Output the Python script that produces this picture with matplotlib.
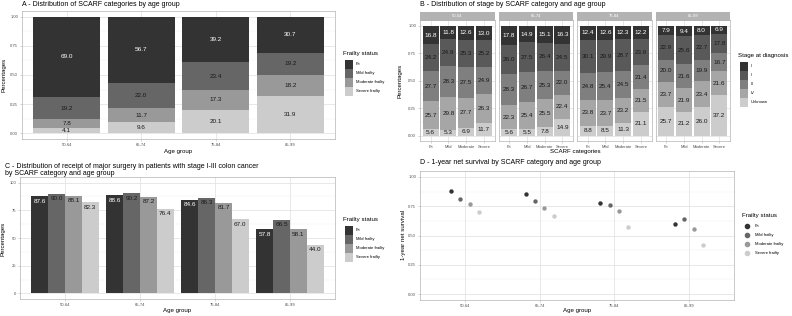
import matplotlib
matplotlib.use("Agg")
import matplotlib.pyplot as plt
from matplotlib.transforms import Affine2D
from matplotlib.patches import Rectangle
from matplotlib.lines import Line2D
import numpy as np

plt.rcParams['font.family'] = ['Liberation Sans', 'DejaVu Sans']

W, H = 792, 316

age_groups = ["50-64", "65-74", "75-84", "85-99"]
frailty = ["Fit", "Mild frailty", "Moderate frailty", "Severe frailty"]
scarf_short = ["Fit", "Mild", "Moderate", "Severe"]
stages = ["I", "II", "III", "IV", "Unknown"]

# A - share of each SCARF category by age group (%)
dist_fit = [69.0, 56.7, 39.2, 30.7]
dist_mild = [19.2, 22.0, 23.4, 19.2]
dist_mod = [7.8, 11.7, 17.3, 18.2]
dist_sev = [4.1, 9.6, 20.1, 31.9]

# B - stage distribution, 16 bars = age group x SCARF category (%)
stage_i = [16.8, 11.8, 12.6, 13.0, 17.8, 14.9, 15.1, 16.3, 12.4, 12.6, 12.3, 12.2, 7.9, 9.4, 8.0, 6.9]
stage_ii = [24.2, 24.9, 25.3, 25.2, 26.0, 27.5, 26.4, 24.5, 30.1, 29.9, 28.7, 23.9, 22.9, 25.6, 22.7, 17.8]
stage_iii = [27.7, 28.3, 27.5, 24.9, 28.3, 26.7, 25.3, 22.0, 24.8, 25.4, 24.5, 21.4, 20.0, 21.6, 19.9, 16.7]
stage_iv = [25.7, 29.8, 27.7, 26.3, 22.3, 25.4, 25.5, 22.4, 23.8, 23.7, 23.2, 21.5, 23.7, 21.9, 23.4, 21.6]
stage_unk = [5.6, 5.3, 6.9, 11.7, 5.6, 5.5, 7.8, 14.9, 8.8, 8.5, 11.3, 21.1, 25.7, 21.2, 26.0, 37.2]

# C - receipt of major surgery (%)
surg_fit = [87.6, 88.6, 84.6, 57.8]
surg_mild = [90.0, 90.2, 86.3, 66.5]
surg_mod = [88.1, 87.2, 81.7, 58.1]
surg_sev = [82.3, 76.4, 67.0, 44.0]

# D - 1-year net survival
surv_fit = [0.878, 0.857, 0.780, 0.596]
surv_mild = [0.810, 0.795, 0.758, 0.641]
surv_mod = [0.767, 0.738, 0.709, 0.553]
surv_sev = [0.700, 0.664, 0.575, 0.416]

grey4 = ["#333333", "#666666", "#999999", "#cccccc"]
grey5 = ["#333333", "#595959", "#7f7f7f", "#a6a6a6", "#cccccc"]
txt4 = ["white", "#1a1a1a", "#1a1a1a", "#1a1a1a"]
txt5 = ["white", "#1a1a1a", "#1a1a1a", "#1a1a1a", "#1a1a1a"]

fig = plt.figure(figsize=(W / 100, H / 100), dpi=100)
fig.patch.set_facecolor("white")
px = Affine2D().scale(1 / W, -1 / H).translate(0, 1) + fig.transFigure

TITLE = 5.0
AXT = 4.4
TICK = 3.0
LAB = 4.6


def ax_px(l, t, r, b):
    return fig.add_axes([l / W, 1 - b / H, (r - l) / W, (b - t) / H])


def style(ax, yt, ylab_fmt):
    for s in ax.spines.values():
        s.set_color("#b3b3b3")
        s.set_linewidth(0.5)
    ax.set_yticks(yt)
    ax.set_yticklabels([ylab_fmt(v) for v in yt])
    ax.set_yticks([(yt[i] + yt[i + 1]) / 2 for i in range(len(yt) - 1)], minor=True)
    ax.grid(which="major", color="#dedede", lw=0.5)
    ax.grid(which="minor", axis="y", color="#ececec", lw=0.3)
    ax.set_axisbelow(True)
    ax.tick_params(which="major", length=1.6, width=0.4, color="#b3b3b3",
                   labelsize=TICK, labelcolor="#4d4d4d", pad=1.2)
    ax.tick_params(which="minor", length=0)


def legend(x, y, title, labels, colors, kind):
    fig.text(x, y, title, transform=px, fontsize=AXT, va="center", ha="left")
    for i, (lab, c) in enumerate(zip(labels, colors)):
        ky = y + 7 + i * 9
        if kind == "box":
            fig.patches.append(Rectangle((x + 2, ky), 8, 8.5, transform=px,
                                         facecolor=c, edgecolor="none"))
        else:
            fig.lines.append(Line2D([x + 5], [ky + 4.25], transform=px, marker="o",
                                    color=c, ms=3, ls=""))
        fig.text(x + 13, ky + 4.25, lab, transform=px, fontsize=TICK, va="center")


x = np.arange(1, 5)

# ---------------- A ----------------
axA = ax_px(22, 11, 335, 139)
shares = [dist_fit, dist_mild, dist_mod, dist_sev]
tot = np.array(dist_fit) + np.array(dist_mild) + np.array(dist_mod) + np.array(dist_sev)
bottom = np.zeros(4)
for k in range(3, -1, -1):
    v = np.array(shares[k])
    h = v / tot
    axA.bar(x, h, 0.9, bottom=bottom, color=grey4[k], zorder=2)
    for i in range(4):
        axA.text(x[i], bottom[i] + h[i] / 2, f"{v[i]:.1f}", ha="center", va="center",
                 fontsize=LAB, color=txt4[k], zorder=3)
    bottom += h
axA.set_xlim(0.4, 4.6)
axA.set_ylim(-0.05, 1.05)
style(axA, [0, 0.25, 0.5, 0.75, 1.0], lambda v: f"{v:.2f}")
axA.set_xticks(x)
axA.set_xticklabels(age_groups)
fig.text(22, 5, "A - Distribution of SCARF categories by age group", transform=px,
         fontsize=TITLE, va="center")
fig.text(4, 75, "Percentages", transform=px, fontsize=AXT, rotation=90, va="center", ha="center")
fig.text(178.5, 151, "Age group", transform=px, fontsize=AXT, va="center", ha="center")
legend(343, 53, "Frailty status", frailty, grey4, "box")

# ---------------- B ----------------
stage_vals = [stage_i, stage_ii, stage_iii, stage_iv, stage_unk]
for g in range(4):
    l = 420 + g * 78.5
    axB = ax_px(l, 20.5, l + 74.5, 141)
    idx = slice(g * 4, g * 4 + 4)
    vals = [np.array(s[idx]) for s in stage_vals]
    tot_b = sum(vals)
    bottom = np.zeros(4)
    for k in range(4, -1, -1):
        h = vals[k] / tot_b
        axB.bar(x, h, 0.9, bottom=bottom, color=grey5[k], zorder=2)
        for i in range(4):
            axB.text(x[i], bottom[i] + h[i] / 2, f"{vals[k][i]:.1f}", ha="center",
                     va="center", fontsize=LAB, color=txt5[k], zorder=3)
        bottom += h
    axB.set_xlim(0.4, 4.6)
    axB.set_ylim(-0.05, 1.05)
    style(axB, [0, 0.25, 0.5, 0.75, 1.0], lambda v: f"{v:.2f}")
    axB.set_xticks(x)
    axB.set_xticklabels(scarf_short)
    if g > 0:
        axB.tick_params(axis="y", left=False, labelleft=False)
    fig.patches.append(Rectangle((l, 12), 74.5, 8.5, transform=px,
                                 facecolor="#b3b3b3", edgecolor="none"))
    fig.text(l + 37.25, 16.25, age_groups[g], transform=px, fontsize=TICK,
             color="white", ha="center", va="center")
fig.text(420, 5, "B - Distribution of stage by SCARF category and age group", transform=px,
         fontsize=TITLE, va="center")
fig.text(400, 81, "Percentages", transform=px, fontsize=AXT, rotation=90, va="center", ha="center")
fig.text(575, 152, "SCARF categories", transform=px, fontsize=AXT, va="center", ha="center")
legend(738, 55, "Stage at diagnosis", stages, grey5, "box")

# ---------------- C ----------------
axC = ax_px(20, 177, 335, 299)
surg = [surg_fit, surg_mild, surg_mod, surg_sev]
for k in range(4):
    xs = x + (k - 1.5) * 0.225
    axC.bar(xs, surg[k], 0.225, color=grey4[k], zorder=2)
    for i in range(4):
        axC.text(xs[i], surg[k][i] - 4.5, f"{surg[k][i]:.1f}", ha="center", va="center",
                 fontsize=LAB, color=txt4[k], zorder=3)
axC.set_xlim(0.4, 4.6)
axC.set_ylim(-5, 105)
style(axC, [0, 25, 50, 75, 100], lambda v: f"{v:d}")
axC.set_xticks(x)
axC.set_xticklabels(age_groups)
fig.text(5, 166.5, "C - Distribution of receipt of major surgery in patients with stage I-III colon cancer",
         transform=px, fontsize=TITLE, va="center")
fig.text(5, 173.5, "by SCARF category and age group", transform=px, fontsize=TITLE, va="center")
fig.text(3.5, 239, "Percentages", transform=px, fontsize=AXT, rotation=90, va="center", ha="center")
fig.text(177.5, 310.5, "Age group", transform=px, fontsize=AXT, va="center", ha="center")
legend(343, 219, "Frailty status", frailty, grey4, "box")

# ---------------- D ----------------
axD = ax_px(420, 171, 734, 300)
surv = [surv_fit, surv_mild, surv_mod, surv_sev]
for k in range(4):
    axD.scatter(x + (k - 1.5) * 0.125, surv[k], s=10, color=grey4[k], zorder=3, lw=0)
axD.set_xlim(0.4, 4.6)
axD.set_ylim(-0.05, 1.05)
style(axD, [0, 0.25, 0.5, 0.75, 1.0], lambda v: f"{v:.2f}")
axD.set_xticks(x)
axD.set_xticklabels(age_groups)
fig.text(420, 163, "D - 1-year net survival by SCARF category and age group", transform=px,
         fontsize=TITLE, va="center")
fig.text(403, 235, "1-year net survival", transform=px, fontsize=AXT, rotation=90, va="center", ha="center")
fig.text(577, 310.5, "Age group", transform=px, fontsize=AXT, va="center", ha="center")
legend(742, 215, "Frailty status", frailty, grey4, "dot")

fig.savefig("out.png", dpi=100)
